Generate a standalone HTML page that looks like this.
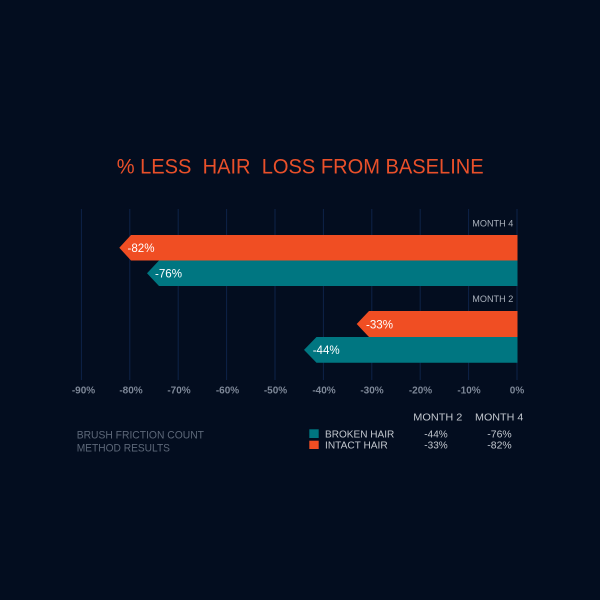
<!DOCTYPE html>
<html>
<head>
<meta charset="utf-8">
<style>
  html,body{margin:0;padding:0;background:#030d1f;}
  svg{display:block;}
  text{font-family:"Liberation Sans",sans-serif;}
</style>
</head>
<body>
<svg width="600" height="600" viewBox="0 0 600 600" xmlns="http://www.w3.org/2000/svg">
  <rect x="0" y="0" width="600" height="600" fill="#030d1f"/>

  <!-- Title -->
  <text x="116.7" y="173.3" font-size="21" fill="#e9502a" textLength="367" lengthAdjust="spacingAndGlyphs" xml:space="preserve">% LESS  HAIR  LOSS FROM BASELINE</text>

  <!-- Gridlines -->
  <g stroke="#0d2348" stroke-width="1">
    <line x1="81.4" y1="209" x2="81.4" y2="380"/>
    <line x1="129.8" y1="209" x2="129.8" y2="380"/>
    <line x1="178.2" y1="209" x2="178.2" y2="380"/>
    <line x1="226.6" y1="209" x2="226.6" y2="380"/>
    <line x1="275" y1="209" x2="275" y2="380"/>
    <line x1="323.4" y1="209" x2="323.4" y2="380"/>
    <line x1="371.8" y1="209" x2="371.8" y2="380"/>
    <line x1="420.2" y1="209" x2="420.2" y2="380"/>
    <line x1="468.6" y1="209" x2="468.6" y2="380"/>
    <line x1="517" y1="209" x2="517" y2="380"/>
  </g>

  <!-- Group labels -->
  <text x="472.3" y="226.7" font-size="9" fill="#aab1bc" textLength="41" lengthAdjust="spacingAndGlyphs">MONTH 4</text>
  <text x="472.3" y="302" font-size="9" fill="#aab1bc" textLength="41" lengthAdjust="spacingAndGlyphs">MONTH 2</text>

  <!-- Bars Month 4 -->
  <polygon points="131,235 517.5,235 517.5,260.5 131,260.5 119.3,247.75" fill="#f04e23"/>
  <polygon points="159,260.5 517.5,260.5 517.5,286 159,286 147,273.25" fill="#007681"/>
  <!-- Bars Month 2 -->
  <polygon points="369,311 517.5,311 517.5,337 369,337 356.7,324" fill="#f04e23"/>
  <polygon points="316.5,337 517.5,337 517.5,362.7 316.5,362.7 304,349.85" fill="#007681"/>

  <!-- Bar labels -->
  <text x="127.5" y="252.2" font-size="12" fill="#ffffff" textLength="27" lengthAdjust="spacingAndGlyphs">-82%</text>
  <text x="155" y="277.6" font-size="12" fill="#ffffff" textLength="27" lengthAdjust="spacingAndGlyphs">-76%</text>
  <text x="366" y="328.4" font-size="12" fill="#ffffff" textLength="27" lengthAdjust="spacingAndGlyphs">-33%</text>
  <text x="312.7" y="354.2" font-size="12" fill="#ffffff" textLength="27" lengthAdjust="spacingAndGlyphs">-44%</text>

  <!-- Axis tick labels -->
  <g font-size="10" font-weight="bold" fill="#7d8797" text-anchor="middle">
    <text x="83.5" y="393.5">-90%</text>
    <text x="131" y="393.5">-80%</text>
    <text x="179" y="393.5">-70%</text>
    <text x="227.5" y="393.5">-60%</text>
    <text x="275.5" y="393.5">-50%</text>
    <text x="324" y="393.5">-40%</text>
    <text x="372" y="393.5">-30%</text>
    <text x="420.5" y="393.5">-20%</text>
    <text x="469" y="393.5">-10%</text>
    <text x="517" y="393.5">0%</text>
  </g>

  <!-- Legend header -->
  <text x="413.3" y="420.7" font-size="10.5" fill="#c3c8cf" textLength="49" lengthAdjust="spacingAndGlyphs">MONTH 2</text>
  <text x="475" y="420.7" font-size="10.5" fill="#c3c8cf" textLength="48.3" lengthAdjust="spacingAndGlyphs">MONTH 4</text>

  <!-- Left note -->
  <text x="76.7" y="438.3" font-size="11.2" fill="#5c6778" textLength="127.3" lengthAdjust="spacingAndGlyphs">BRUSH FRICTION COUNT</text>
  <text x="76.7" y="451.3" font-size="11.2" fill="#5c6778" textLength="93.3" lengthAdjust="spacingAndGlyphs">METHOD RESULTS</text>

  <!-- Legend rows -->
  <rect x="309.3" y="429.3" width="9.4" height="8.7" fill="#007681"/>
  <rect x="309.3" y="440.7" width="9.4" height="8.3" fill="#f04e23"/>
  <text x="325" y="437.7" font-size="10.5" fill="#c3c8cf" textLength="69.3" lengthAdjust="spacingAndGlyphs">BROKEN HAIR</text>
  <text x="325" y="448.7" font-size="10.5" fill="#c3c8cf" textLength="62.7" lengthAdjust="spacingAndGlyphs">INTACT HAIR</text>
  <text x="424.3" y="437.7" font-size="10.5" fill="#c3c8cf" textLength="23.4" lengthAdjust="spacingAndGlyphs">-44%</text>
  <text x="487.3" y="437.7" font-size="10.5" fill="#c3c8cf" textLength="24.4" lengthAdjust="spacingAndGlyphs">-76%</text>
  <text x="424.3" y="448.7" font-size="10.5" fill="#c3c8cf" textLength="23.4" lengthAdjust="spacingAndGlyphs">-33%</text>
  <text x="487.3" y="448.7" font-size="10.5" fill="#c3c8cf" textLength="24.4" lengthAdjust="spacingAndGlyphs">-82%</text>
</svg>
</body>
</html>
